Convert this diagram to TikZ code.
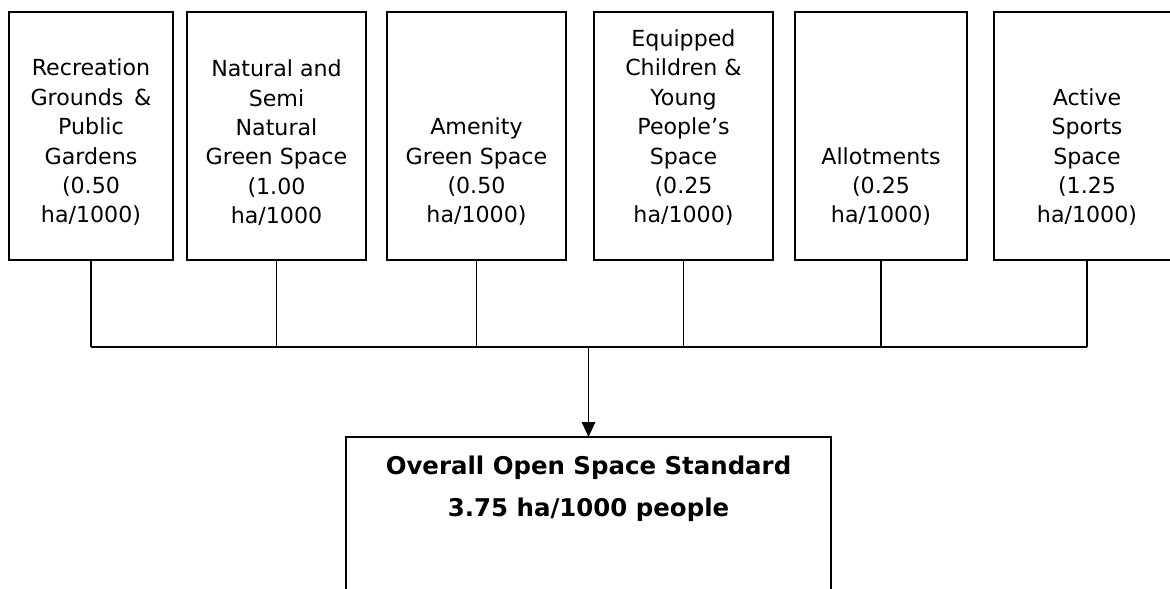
\documentclass[tikz,border=0pt]{standalone}
\usepackage{fontspec}
\setmainfont{DejaVu Sans}
\usetikzlibrary{arrows.meta, positioning}
\tikzset{
  typebox/.style={rectangle, draw=black, line width=1pt, minimum width=3.58cm, minimum height=4.96cm, inner sep=0pt, outer sep=0pt},
  typetext/.style={align=center, inner sep=0pt, font=\fontsize{12.6}{16.7}\selectfont},
  totalbox/.style={rectangle, draw=black, line width=1pt, minimum width=9.7cm, minimum height=4cm, inner sep=0pt, outer sep=0pt},
  totaltext/.style={align=center, inner sep=0pt, font=\bfseries\fontsize{13.9}{23.8}\selectfont},
  linkline/.style={line width=1pt},
  arrowline/.style={-{Triangle[length=0.3cm, width=0.27cm]}, line width=1pt},
}
\begin{document}
\begin{tikzpicture}
\useasboundingbox (0,0) rectangle (23.4,-11.78);
% the six open space types
\node[typebox, minimum width=3.28cm, anchor=north west] (recr) at (0.18,-0.24) {};
\node[typebox, right=0.28cm of recr] (natural) {};
\node[typebox, right=0.42cm of natural] (amenity) {};
\node[typebox, right=0.56cm of amenity] (children) {};
\node[typebox, minimum width=3.44cm, right=0.44cm of children] (allot) {};
\node[typebox, minimum width=3.72cm, right=0.54cm of allot] (sports) {};

\node[typetext, above=0.68cm of recr.south] (recrtxt) {Recreation\\Grounds \,\&\\Public\\Gardens\\(0.50\\ha/1000)};
\node[typetext, above=0.68cm of natural.south] (naturaltxt) {Natural and\\Semi\\Natural\\Green Space\\(1.00\\ha/1000};
\node[typetext, above=0.68cm of amenity.south] (amenitytxt) {Amenity\\Green Space\\(0.50\\ha/1000)};
\node[typetext, above=0.68cm of children.south] (childrentxt) {Equipped\\Children \&\\Young\\People’s\\Space\\(0.25\\ha/1000)};
\node[typetext, above=0.68cm of allot.south] (allottxt) {Allotments\\(0.25\\ha/1000)};
\node[typetext, above=0.68cm of sports.south] (sportstxt) {Active\\Sports\\Space\\(1.25\\ha/1000)};

% overall standard
\node[totalbox, anchor=north] (total) at (11.77,-8.74) {};
\node[totaltext, below=0.38cm of total.north] (totaltxt) {Overall Open Space Standard\\3.75 ha/1000 people};

\coordinate (bus) at (0,-6.94);
\draw[linkline] (recr.south) -- (recr.south |- bus);
\draw[linkline] (natural.south) -- (natural.south |- bus);
\draw[linkline] (amenity.south) -- (amenity.south |- bus);
\draw[linkline] (children.south) -- (children.south |- bus);
\draw[linkline] (allot.south) -- (allot.south |- bus);
\draw[linkline] (sports.south) -- (sports.south |- bus);
\draw[linkline] (recr.south |- bus) -- (sports.south |- bus);
\draw[arrowline] (total.north |- bus) -- (total.north);
\end{tikzpicture}
\end{document}
